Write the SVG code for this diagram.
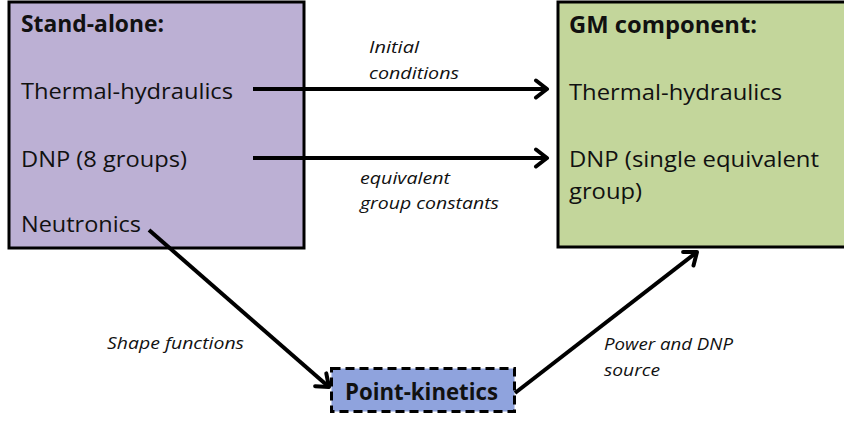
<svg xmlns="http://www.w3.org/2000/svg" width="844" height="422" viewBox="0 0 844 422">
<style>
.box{stroke:#000;stroke-width:3}
.t{font-family:"Open Sans","Liberation Sans",Arial,sans-serif;font-size:22.5px;fill:#111}
.b{font-weight:bold}
.lbl{font-family:"Open Sans","Liberation Sans",Arial,sans-serif;font-size:17px;font-style:italic;fill:#111}
.con{stroke:#000;stroke-width:4;fill:none}
</style>
<defs>
<marker id="ah" markerUnits="userSpaceOnUse" viewBox="0 0 18 22" markerWidth="18" markerHeight="22" refX="14" refY="11" orient="auto">
<path d="M3,2.5 L14,11 L3,19.5" fill="none" stroke="#000" stroke-width="4" stroke-linecap="round" stroke-linejoin="round"/>
</marker>
</defs>
<rect width="844" height="422" fill="#fff"/>
<g id="standalone">
<rect class="box" x="9" y="2" width="295" height="246" fill="#bcb0d4"/>
<text class="t b" x="21" y="32" textLength="143" lengthAdjust="spacingAndGlyphs">Stand-alone:</text>
<text class="t" x="21" y="99" textLength="212" lengthAdjust="spacingAndGlyphs">Thermal-hydraulics</text>
<text class="t" x="21" y="167" textLength="166" lengthAdjust="spacingAndGlyphs">DNP (8 groups)</text>
<text class="t" x="21" y="232" textLength="120" lengthAdjust="spacingAndGlyphs">Neutronics</text>
</g>
<g id="gm">
<rect class="box" x="558" y="2" width="290" height="245" fill="#c3d69b"/>
<text class="t b" x="569" y="33" textLength="188" lengthAdjust="spacingAndGlyphs">GM component:</text>
<text class="t" x="569" y="100" textLength="213" lengthAdjust="spacingAndGlyphs">Thermal-hydraulics</text>
<text class="t" x="569" y="167" textLength="250" lengthAdjust="spacingAndGlyphs">DNP (single equivalent</text>
<text class="t" x="569" y="199" textLength="73" lengthAdjust="spacingAndGlyphs">group)</text>
</g>
<g id="pointkinetics">
<rect x="331.5" y="368.5" width="183" height="43" fill="#8fa3dd" stroke="#000" stroke-width="3" stroke-dasharray="9,5"/>
<text class="t b" x="345" y="400" textLength="153" lengthAdjust="spacingAndGlyphs">Point-kinetics</text>
</g>
<g id="connectors">
<line class="con" x1="253" y1="89" x2="547" y2="89" marker-end="url(#ah)"/>
<line class="con" x1="253" y1="158" x2="547" y2="158" marker-end="url(#ah)"/>
<line class="con" x1="149" y1="230" x2="329" y2="387" marker-end="url(#ah)"/>
<line class="con" x1="515" y1="393" x2="697" y2="252" marker-end="url(#ah)"/>
<text class="lbl" x="369" y="53" textLength="50" lengthAdjust="spacingAndGlyphs">Initial</text>
<text class="lbl" x="369" y="79" textLength="90" lengthAdjust="spacingAndGlyphs">conditions</text>
<text class="lbl" x="360" y="184" textLength="90" lengthAdjust="spacingAndGlyphs">equivalent</text>
<text class="lbl" x="360" y="209" textLength="139" lengthAdjust="spacingAndGlyphs">group constants</text>
<text class="lbl" x="107" y="349" textLength="137" lengthAdjust="spacingAndGlyphs">Shape functions</text>
<text class="lbl" x="604" y="350" textLength="129" lengthAdjust="spacingAndGlyphs">Power and DNP</text>
<text class="lbl" x="604" y="376" textLength="56" lengthAdjust="spacingAndGlyphs">source</text>
</g>
</svg>
